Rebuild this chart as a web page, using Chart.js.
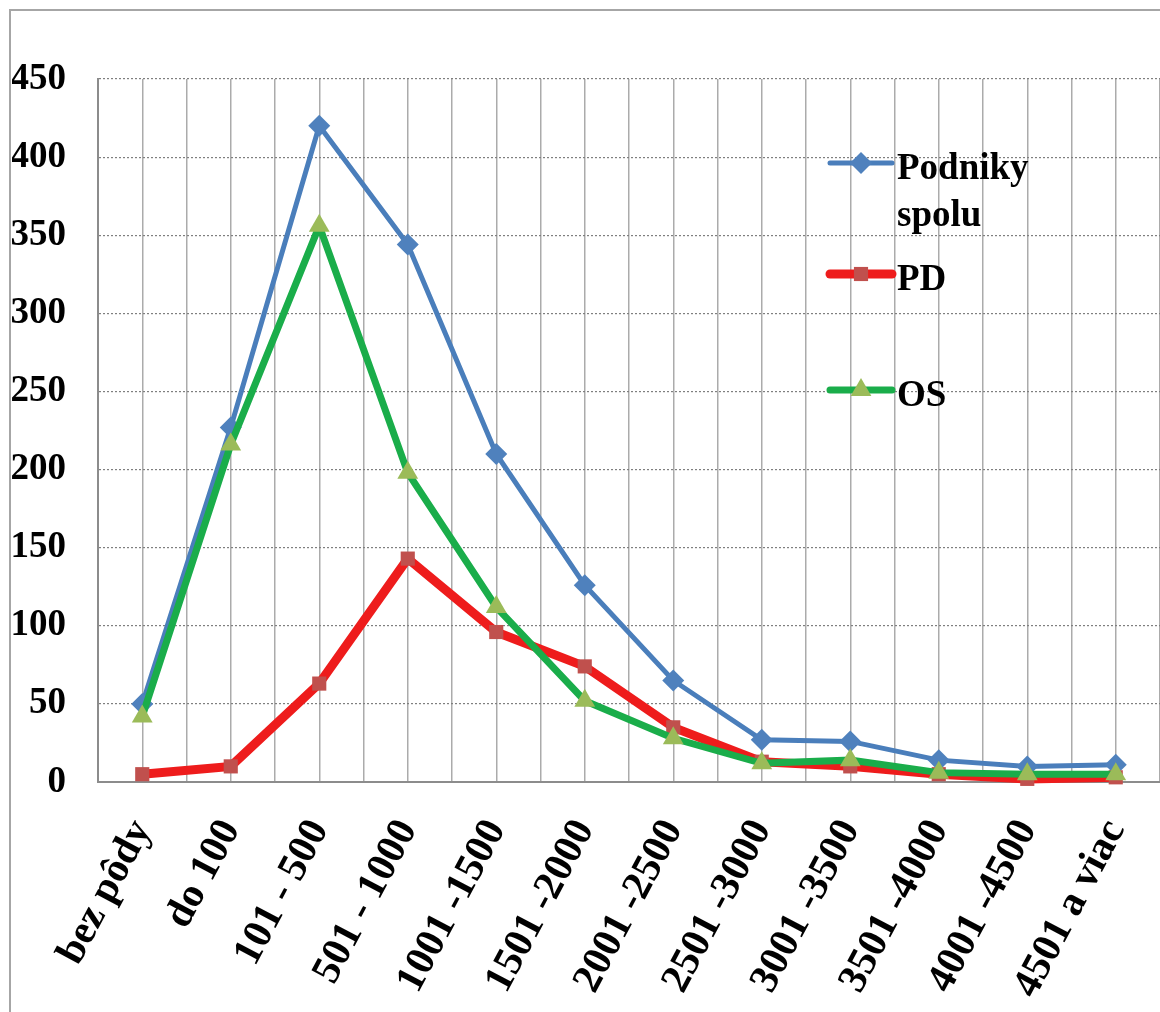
<!DOCTYPE html>
<html>
<head>
<meta charset="utf-8">
<script src="https://cdn.jsdelivr.net/npm/chart.js@4.4.0/dist/chart.umd.min.js"></script>
<style>
  html, body { margin: 0; padding: 0; background: #fff; overflow: hidden; }
  #wrap { position: relative; width: 1160px; height: 1012px; overflow: hidden; }
  #frame { position: absolute; left: 9px; top: 9px; width: 1300px; height: 1200px;
           border-left: 2px solid #a6a6a6; border-top: 2px solid #a6a6a6; }
  canvas { position: absolute; left: 0; top: 0; }
</style>
</head>
<body>
<div id="wrap">
  <div id="frame"></div>
  <canvas id="chart" width="1160" height="1012"></canvas>
</div>
<script>
const categories = ["bez pôdy", "do 100", "101 - 500", "501 - 1000", "1001 -1500", "1501 -2000",
                    "2001 -2500", "2501 -3000", "3001 -3500", "3501 -4000", "4001 -4500", "4501 a viac"];
const podnikySpolu = [50, 227, 420, 344, 210, 126, 65, 27, 26, 14, 10, 11];
const pd = [5, 10, 63, 143, 96, 74, 35, 13, 10, 5, 2, 3];
const os = [42, 216, 356, 198, 112, 52, 28, 12, 14, 6, 5, 5];
const yTicks = { min: 0, max: 450, step: 50 };

const FONT = '"Liberation Serif", "Times New Roman", serif';

const series = [
  { label: "Podniky spolu", lines: ["Podniky", "spolu"], data: podnikySpolu,
    line: "#4a7ebb", fill: "#4f81bd", width: 5, style: "rectRot", radius: 11, order: 2 },
  { label: "PD", lines: ["PD"], data: pd,
    line: "#ee1c1c", fill: "#c0504d", width: 9, style: "rect", radius: 10, order: 1 },
  { label: "OS", lines: ["OS"], data: os,
    line: "#1aad4a", fill: "#9bbb59", width: 7, style: "triangle", radius: 12, order: 0 }
];

// legend sits inside the plot, like in the original
const legendSpots = [
  { x: 830, y: 163 },
  { x: 830, y: 274 },
  { x: 830, y: 390 }
];

function marker(ctx, style, x, y, r, color) {
  ctx.fillStyle = color;
  ctx.beginPath();
  if (style === "rectRot") {
    ctx.moveTo(x, y - r); ctx.lineTo(x + r, y); ctx.lineTo(x, y + r); ctx.lineTo(x - r, y);
  } else if (style === "rect") {
    const s = r * Math.SQRT1_2;
    ctx.rect(x - s, y - s, 2 * s, 2 * s);
  } else {
    const a = Math.PI / 6;
    ctx.moveTo(x, y - r);
    ctx.lineTo(x + Math.cos(a) * r, y + Math.sin(a) * r);
    ctx.lineTo(x - Math.cos(a) * r, y + Math.sin(a) * r);
  }
  ctx.closePath();
  ctx.fill();
}

const sideLegend = {
  id: "sideLegend",
  afterDraw(chart) {
    const ctx = chart.ctx;
    ctx.save();
    series.forEach((s, i) => {
      const p = legendSpots[i];
      ctx.strokeStyle = s.line;
      ctx.lineWidth = s.width;
      ctx.lineCap = "round";
      ctx.beginPath();
      ctx.moveTo(p.x, p.y);
      ctx.lineTo(p.x + 62, p.y);
      ctx.stroke();
      marker(ctx, s.style, p.x + 31, p.y, s.radius, s.fill);
      ctx.fillStyle = "#000";
      ctx.font = "bold 37px " + FONT;
      ctx.textBaseline = "middle";
      s.lines.forEach((t, k) => ctx.fillText(t, p.x + 67, p.y + 6 + k * 47));
    });
    ctx.restore();
  }
};

new Chart(document.getElementById("chart"), {
  type: "line",
  data: {
    labels: categories,
    datasets: series.map(s => ({
      label: s.label,
      data: s.data,
      borderColor: s.line,
      borderWidth: s.width,
      backgroundColor: s.fill,
      pointStyle: s.style,
      pointRadius: s.radius,
      pointBackgroundColor: s.fill,
      pointBorderColor: s.fill,
      pointBorderWidth: 0,
      tension: 0,
      clip: false,
      order: s.order
    }))
  },
  options: {
    responsive: false,
    animation: false,
    layout: { autoPadding: false, padding: { left: 12, top: 79, right: 0, bottom: 0 } },
    plugins: { legend: { display: false }, tooltip: { enabled: false } },
    scales: {
      x: {
        offset: true,
        grid: { offset: false, color: "#ababab", lineWidth: 1.5, drawTicks: false },
        border: { display: true, color: "#8c8c8c", width: 2 },
        ticks: {
          color: "#000", autoSkip: false, minRotation: 62, maxRotation: 62, padding: 30,
          font: { family: FONT, size: 41, weight: "bold" }
        },
        afterFit(scale) {
          scale.height = 230;
          scale.paddingLeft = 0;
          scale.paddingRight = 0;
        }
      },
      x2: {
        type: "category",
        position: "top",
        offset: true,
        grid: { offset: true, color: "#ababab", lineWidth: 1.5, drawTicks: false },
        border: { display: false },
        ticks: { display: false },
        afterFit(scale) {
          scale.height = 0;
          scale.paddingLeft = 0;
          scale.paddingRight = 0;
        }
      },
      y: {
        min: yTicks.min,
        max: yTicks.max,
        grid: { color: "#7f7f7f", lineWidth: 1.2, drawTicks: false },
        border: { display: true, color: "#8c8c8c", width: 2, dash: [2, 2] },
        ticks: {
          stepSize: yTicks.step, color: "#000", padding: 32,
          font: { family: FONT, size: 37, weight: "bold" }
        },
        afterFit(scale) {
          scale.width = 86;
        }
      }
    }
  },
  plugins: [sideLegend]
});
</script>
</body>
</html>
